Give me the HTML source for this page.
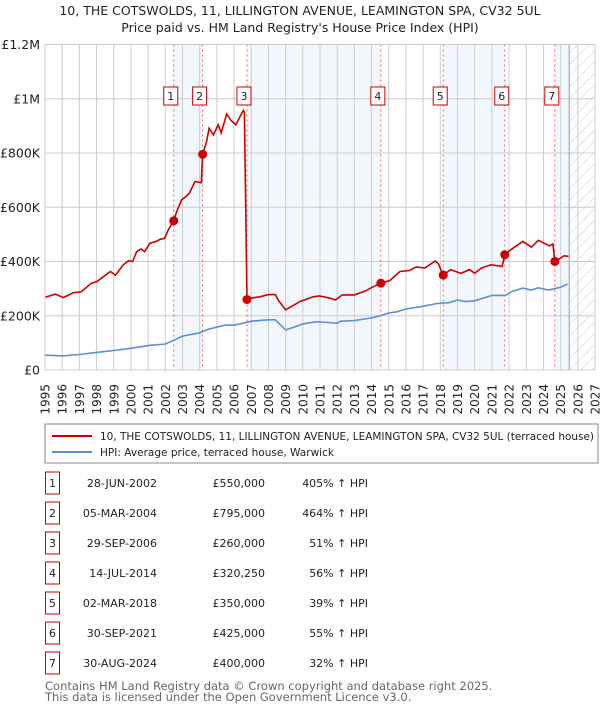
<!DOCTYPE html>
<html><head><meta charset="utf-8"><style>
body{margin:0;background:#fff;font-family:"Liberation Sans","DejaVu Sans",sans-serif;}
svg text{font-family:"DejaVu Sans","Liberation Sans",sans-serif;}
</style></head><body>
<svg id="c" width="600" height="710" xmlns="http://www.w3.org/2000/svg">
<defs><pattern id="hatch" width="8" height="8" patternUnits="userSpaceOnUse" patternTransform="rotate(45)"><line x1="0" y1="0" x2="0" y2="8" stroke="#ccc" stroke-width="1"/></pattern></defs>
<text x="300" y="15" text-anchor="middle" font-size="12.5" fill="#222">10, THE COTSWOLDS, 11, LILLINGTON AVENUE, LEAMINGTON SPA, CV32 5UL</text>
<text x="300" y="32" text-anchor="middle" font-size="12.5" fill="#222">Price paid vs. HM Land Registry's House Price Index (HPI)</text>
<g id="plot"></g>
<g>
<rect x="45" y="424" width="553" height="39" fill="#fff" stroke="#888"/>
<line x1="52" y1="436" x2="92" y2="436" stroke="#cc0000" stroke-width="2"/>
<text x="100" y="440" font-size="10.5" textLength="494" lengthAdjust="spacingAndGlyphs" fill="#222">10, THE COTSWOLDS, 11, LILLINGTON AVENUE, LEAMINGTON SPA, CV32 5UL (terraced house)</text>
<line x1="52" y1="452" x2="92" y2="452" stroke="#5b8fd4" stroke-width="2"/>
<text x="100" y="456" font-size="10.5" textLength="234" lengthAdjust="spacingAndGlyphs" fill="#222">HPI: Average price, terraced house, Warwick</text>
</g>
<g id="table"></g>
<text x="45" y="690" font-size="11.5" fill="#666">Contains HM Land Registry data © Crown copyright and database right 2025.</text>
<text x="45" y="701" font-size="11.5" fill="#666">This data is licensed under the Open Government Licence v3.0.</text>
</svg>
<script>
const redYears=[1995,1995.6,1996.07,1996.65,1997.1,1997.7,1998,1998.4,1998.8,1999.1,1999.55,1999.85,2000.1,2000.33,2000.6,2000.8,2001.1,2001.5,2001.7,2001.95,2002.17,2002.49,2002.66,2002.95,2003.2,2003.4,2003.73,2004.1,2004.17,2004.4,2004.55,2004.8,2005.08,2005.25,2005.57,2005.8,2006.1,2006.54,2006.6,2006.75,2007,2007.5,2008,2008.4,2008.6,2009,2009.5,2009.83,2010.6,2010.95,2011.5,2011.9,2012.3,2013,2013.6,2014.1,2014.54,2015.07,2015.65,2016.2,2016.6,2017.1,2017.7,2017.9,2018.17,2018.6,2019.2,2019.7,2020,2020.4,2020.95,2021.6,2021.75,2022.1,2022.8,2023.3,2023.7,2024.35,2024.55,2024.66,2025.2,2025.45];
const redValues=[268,280,267,285,288,320,325,344,363,350,387,403,400,436,446,436,467,475,482,485,516,550,584,627,639,652,695,690,795,842,891,867,904,874,944,922,904,957,950,260,265,270,278,278,255,222,240,252,270,273,266,258,277,277,290,307,320,330,363,367,380,376,402,390,350,370,356,370,357,376,388,382,425,443,474,453,478,458,465,400,421,419];
const hpiYears=[1995,1996,1997,1998,1999,2000,2001,2002,2002.5,2003,2004,2004.5,2005,2005.5,2006,2006.7,2007,2008,2008.4,2009,2009.5,2010,2010.8,2011.5,2012,2012.2,2013,2014,2014.5,2015,2015.5,2016,2017,2017.8,2018.5,2019,2019.5,2020,2020.5,2021,2021.8,2022.2,2022.8,2023.3,2023.7,2024.3,2025,2025.4];
const hpiValues=[55,52,57,65,72,80,90,96,110,125,137,150,158,165,165,175,180,185,185,148,158,170,178,175,172,180,182,192,200,210,215,225,235,245,248,258,252,255,265,275,275,290,302,295,303,295,305,317];
const saleYears=[2002.49,2004.17,2006.75,2014.54,2018.17,2021.75,2024.66];
const saleValues=[550,795,260,320.25,350,425,400];
const saleLabels=["1","2","3","4","5","6","7"];
const saleDates=["28-JUN-2002","05-MAR-2004","29-SEP-2006","14-JUL-2014","02-MAR-2018","30-SEP-2021","30-AUG-2024"];
const salePrices=["£550,000","£795,000","£260,000","£320,250","£350,000","£425,000","£400,000"];
const salePcts=["405%","464%","51%","56%","39%","55%","32%"];
const yTicks=[0,200,400,600,800,1000,1200];
const yTickLabels=["£0","£200K","£400K","£600K","£800K","£1M","£1.2M"];
const xStart=1995,xEnd=2027,nowYear=2025.5;

const L=45,R=595,T=44.5,B=370;
const NS="http://www.w3.org/2000/svg";
const xs=y=>L+(y-xStart)/(xEnd-xStart)*(R-L);
const ys=v=>B-v/1200*(B-T);
const plot=document.getElementById('plot');
function mk(tag,attrs,parent){const e=document.createElementNS(NS,tag);for(const k in attrs)e.setAttribute(k,attrs[k]);(parent||plot).appendChild(e);return e;}
for(let i=0;i<saleYears.length;i+=2){
  const a=saleYears[i],b=i+1<saleYears.length?saleYears[i+1]:nowYear;
  const r=mk('rect',{x:xs(a),y:T,width:xs(b)-xs(a),height:B-T,fill:'#f2f6fd'});
  
  
}
const h=mk('rect',{x:xs(nowYear),y:T,width:R-xs(nowYear),height:B-T,fill:'url(#hatch)'});


for(let y=xStart;y<=xEnd;y++){
  const g=mk('line',{x1:xs(y),x2:xs(y),y1:T,y2:B,stroke:'#ccc','stroke-width':1});
  
  
  const t=mk('text',{x:0,y:0,transform:`translate(${xs(y)+4.5},384) rotate(-90)`,'text-anchor':'end','font-size':12,fill:'#222'});
  t.textContent=y;
  
  
}
yTicks.forEach((v,i)=>{
  const g=mk('line',{x1:L,x2:R,y1:ys(v),y2:ys(v),stroke:'#ccc','stroke-width':1});
  
  
  const t=mk('text',{x:40,y:ys(v)+4.5,'text-anchor':'end','font-size':12.5,fill:'#222'});
  t.textContent=yTickLabels[i];
  
  
});
const nl=mk('line',{x1:xs(nowYear),x2:xs(nowYear),y1:T,y2:B,stroke:'#999','stroke-width':1});


saleYears.forEach((y,i)=>{
  const l=mk('line',{x1:xs(y),x2:xs(y),y1:T,y2:B,stroke:'#f06060','stroke-width':1,'stroke-dasharray':'2,3'});
  
  
});
const path=(xsArr,vs)=>xsArr.map((y,i)=>(i?'L':'M')+xs(y).toFixed(1)+','+ys(vs[i]).toFixed(1)).join('');
const hp=mk('path',{d:path(hpiYears,hpiValues),fill:'none',stroke:'#5b8fd4','stroke-width':1.6});


const rp=mk('path',{d:path(redYears,redValues),fill:'none',stroke:'#cc0000','stroke-width':1.6});


saleYears.forEach((y,i)=>{
  const c=mk('circle',{cx:xs(y),cy:ys(saleValues[i]),r:4.5,fill:'#cc0000'});
  
  
  const bx=mk('rect',{x:xs(y)-10,y:87,width:14,height:18,fill:'#fff',stroke:'#cc0000','stroke-width':1});
  
  
  const t=mk('text',{x:xs(y)-3,y:100,'text-anchor':'middle','font-size':11,fill:'#222'});
  t.textContent=saleLabels[i];
  
  
});
const fr=mk('rect',{x:L,y:T,width:R-L,height:B-T,fill:'none',stroke:'#ccc'});


const tb=document.getElementById('table');
saleLabels.forEach((s,i)=>{
  const cy=483+i*30;
  const g=mk('g',{},tb);
  
  
  const bx=mk('rect',{x:45.5,y:cy-11,width:14,height:22,fill:'#fff',stroke:'#cc0000'},g);
  
  
  const n=mk('text',{x:52.5,y:cy+4,'text-anchor':'middle','font-size':11,fill:'#222'},g);
  n.textContent=s;
  
  
  const d=mk('text',{x:157,y:cy+4,'text-anchor':'end','font-size':11,fill:'#222'},g);
  d.textContent=saleDates[i];
  
  
  const p=mk('text',{x:265,y:cy+4,'text-anchor':'end','font-size':11,fill:'#222'},g);
  p.textContent=salePrices[i];
  
  
  const q=mk('text',{x:368,y:cy+4,'text-anchor':'end','font-size':11,fill:'#222'},g);
  q.textContent=salePcts[i]+' ↑ HPI';
  
  
});
</script>
</body></html>
